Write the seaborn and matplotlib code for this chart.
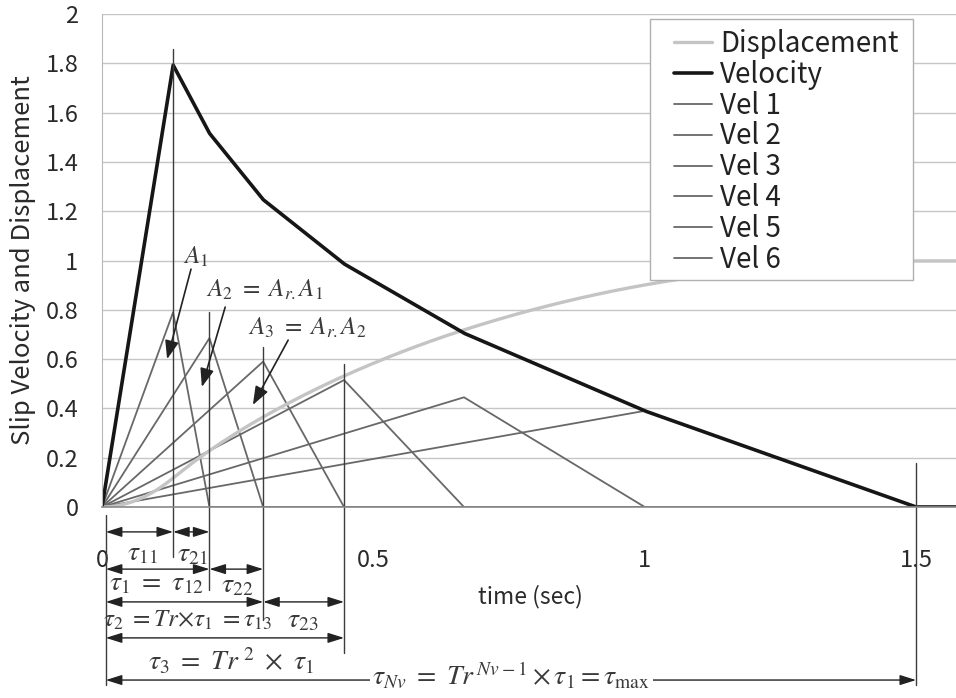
import numpy as np
import pandas as pd
import matplotlib
matplotlib.use("Agg")
import matplotlib.pyplot as plt
from matplotlib.patches import Rectangle
import seaborn as sns

# Triangular slip-velocity components
vel_names = ["Vel 1", "Vel 2", "Vel 3", "Vel 4", "Vel 5", "Vel 6"]
peak_time = [0.131, 0.198, 0.297, 0.446, 0.667, 1.0]
end_time = [0.198, 0.297, 0.446, 0.667, 1.0, 1.5]
peak_value = [0.79, 0.685, 0.59, 0.515, 0.445, 0.39]

x_ticks = [0, 0.5, 1, 1.5]
x_tick_labels = ["0", "0.5", "1", "1.5"]
y_ticks = [0, 0.2, 0.4, 0.6, 0.8, 1.0, 1.2, 1.4, 1.6, 1.8, 2.0]
y_tick_labels = ["0", "0.2", "0.4", "0.6", "0.8", "1", "1.2", "1.4", "1.6", "1.8", "2"]

X_MAX = 1.5736

sns.set_style("white")
plt.rcParams["font.family"] = ["Noto Sans CJK JP", "DejaVu Sans"]
plt.rcParams["mathtext.fontset"] = "stix"

W, H = 956, 698
fig = plt.figure(figsize=(W / 100, H / 100), dpi=100)
ax = fig.add_axes([102 / W, 1 - 507 / H, (W - 102) / W, 493 / H])

# Component curves and their sum / running integral
t = np.linspace(0, X_MAX, 3001)
comps = []
for pt, et, pv in zip(peak_time, end_time, peak_value):
    comps.append(np.interp(t, [0, pt, et, X_MAX], [0, pv, 0, 0]))
velocity = np.sum(comps, axis=0)
displacement = np.concatenate([[0], np.cumsum(0.5 * (velocity[1:] + velocity[:-1]) * np.diff(t))])

vel_color = "#686868"
for name, pt, et, pv in zip(vel_names, peak_time, end_time, peak_value):
    df = pd.DataFrame({"t": [0, pt, et, X_MAX], "v": [0, pv, 0, 0]})
    sns.lineplot(data=df, x="t", y="v", ax=ax, color=vel_color, lw=1.3, sort=False, label=name)

sns.lineplot(x=t, y=displacement, ax=ax, color="#c4c4c4", lw=2.4, label="Displacement")
sns.lineplot(x=t, y=velocity, ax=ax, color="#161616", lw=2.6, label="Velocity")

ax.set_xlim(0, X_MAX)
ax.set_ylim(0, 2)
ax.set_xlabel("")
ax.set_ylabel("")

# Grid and frame
ax.set_yticks(y_ticks)
ax.set_yticklabels(y_tick_labels)
ax.set_xticks(x_ticks)
ax.set_xticklabels(x_tick_labels)
ax.set_xticks(np.arange(0.1, 1.6, 0.1), minor=True)
ax.yaxis.grid(True, color="#c6c6c6", lw=1.0)
ax.xaxis.grid(False)
ax.set_axisbelow(True)
for s in ["top", "right"]:
    ax.spines[s].set_visible(False)
ax.spines["left"].set_color("#b8b8b8")
ax.spines["bottom"].set_color("#8a8a8a")
ax.spines["bottom"].set_linewidth(1.2)
ax.tick_params(axis="y", length=0, pad=17, labelsize=17, labelcolor="#2a2a2a")
ax.tick_params(axis="x", which="both", direction="in", length=5, color="#9a9a9a",
               pad=30, labelsize=17, labelcolor="#2a2a2a")

fig.text(23 / W, 1 - 260 / H, "Slip Velocity and Displacement", rotation=90,
         ha="center", va="center", fontsize=18.5, color="#2a2a2a")
fig.text(530 / W, 1 - 597 / H, "time (sec)", ha="center", va="center",
         fontsize=16.5, color="#2a2a2a")

# Legend with a plain rectangular frame
frame = Rectangle((650 / W, 1 - 280 / H), 263 / W, 261 / H, transform=fig.transFigure,
                  facecolor="white", edgecolor="#b0b0b0", lw=1.0, zorder=4, clip_on=False)
ax.add_patch(frame)
h, l = ax.get_legend_handles_labels()
order = ["Displacement", "Velocity"] + vel_names
hmap = dict(zip(l, h))
leg = ax.legend([hmap[k] for k in order], order, loc="upper left",
                bbox_to_anchor=(674 / W, 1 - 29 / H), bbox_transform=fig.transFigure,
                borderaxespad=0, frameon=False, fontsize=20, handlelength=1.35,
                handletextpad=0.3, labelspacing=0.03, borderpad=0)
leg.set_zorder(5)
for txt in leg.get_texts():
    txt.set_color("#222222")

# Duration markers
line_kw = dict(color="#3c3c3c", lw=1.0, clip_on=False)
v_lines = [(0.007, -0.032, -0.722), (peak_time[0], -0.203, 1.86), (end_time[0], -0.337, 0.79),
           (end_time[1], -0.458, 0.65), (end_time[2], -0.592, 0.58), (end_time[5], -0.722, 0.18)]
for xv, y0, y1 in v_lines:
    ax.plot([xv, xv], [y0, y1], **line_kw)

ink = "#3a3a3a"
arr = dict(arrowstyle="<|-|>,head_length=0.7,head_width=0.22", color="#222222", lw=1.0,
           shrinkA=0, shrinkB=0, mutation_scale=14)

def span(x0, x1, y):
    ax.annotate("", xy=(x1, y), xytext=(x0, y), arrowprops=arr, annotation_clip=False)

span(0.007, peak_time[0], -0.101)
span(peak_time[0], end_time[0], -0.101)
span(0.007, end_time[0], -0.252)
span(end_time[0], end_time[1], -0.252)
span(0.007, end_time[1], -0.385)
span(end_time[1], end_time[2], -0.385)
span(0.007, end_time[2], -0.531)
span(0.007, end_time[5], -0.702)

tk = dict(ha="center", va="center", fontsize=20, color=ink, clip_on=False)
ax.text(0.074, -0.183, r"$\tau_{11}$", **tk)
ax.text(0.166, -0.19, r"$\tau_{21}$", **tk)
ax.text(0.101, -0.304, r"$\tau_1\ =\ \tau_{12}$", **tk)
ax.text(0.249, -0.316, r"$\tau_{22}$", **tk)
ax.text(0.158, -0.458, r"$\tau_2\ {=}Tr{\times}\tau_1\ {=}\tau_{13}$",
        **{**tk, "fontsize": 18})
ax.text(0.369, -0.458, r"$\tau_{23}$", **tk)
ax.text(0.238, -0.629, r"$\tau_3\ =\ Tr^{\ 2}\ \times\ \tau_1$", **tk)
ax.text(0.754, -0.69, r"$\tau_{Nv}\ =\ Tr^{\,Nv-1}\times\tau_1 = \tau_{\max}$",
        bbox=dict(facecolor="white", edgecolor="none", pad=2), **tk)

# Amplitude callouts
ak = dict(ha="center", va="center", fontsize=18, color=ink)
ax.text(0.173, 1.014, r"$A_1$", **ak)
ax.text(0.300, 0.88, r"$A_2\ =\ A_{r.}A_1$", **ak)
ax.text(0.378, 0.726, r"$A_3\ =\ A_{r.}A_2$", **ak)
parr = dict(arrowstyle="-|>,head_length=0.8,head_width=0.3", color="#222222", lw=1.2,
            shrinkA=0, shrinkB=0, mutation_scale=14)
ax.annotate("", xy=(0.120, 0.60), xytext=(0.164, 0.965), arrowprops=parr)
ax.annotate("", xy=(0.184, 0.487), xytext=(0.227, 0.811), arrowprops=parr)
ax.annotate("", xy=(0.278, 0.414), xytext=(0.343, 0.677), arrowprops=parr)

fig.savefig("out.png", dpi=100)
